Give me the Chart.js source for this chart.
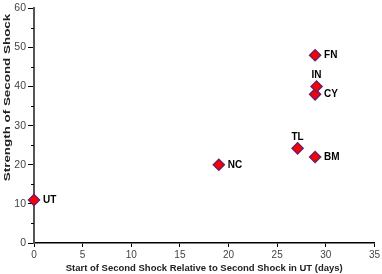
<!DOCTYPE html>
<html>
<head>
<meta charset="utf-8">
<script src="https://cdn.jsdelivr.net/npm/chart.js@4"></script>
<style>
  body { margin: 0; background: #fff; }
  #wrap { width: 382px; height: 274px; }
</style>
</head>
<body>
<div id="wrap"><canvas id="myChart" width="382" height="274"></canvas></div>
<script>
// data
var sites = ['UT', 'NC', 'TL', 'BM', 'CY', 'IN', 'FN'];
var startDays = [0, 19, 27.1, 28.9, 28.9, 29.05, 28.9];
var strength = [11, 20, 24.2, 22, 38, 40, 48];

var xTicks = [0, 5, 10, 15, 20, 25, 30, 35];
var yTicks = [0, 10, 20, 30, 40, 50, 60];
var yMinor = [5, 15, 25, 35, 45, 55];

var yTitle = 'Strength of Second Shock';
var labelsAbove = ['IN', 'TL'];

var points = sites.map(function (s, i) {
  return { x: startDays[i], y: strength[i] };
});

// point names next to the diamonds
var siteLabels = {
  id: 'siteLabels',
  afterDatasetsDraw: function (chart) {
    var c = chart.ctx;
    var meta = chart.getDatasetMeta(0);
    c.save();
    c.font = 'bold 10px "Liberation Sans", Arial, sans-serif';
    c.fillStyle = '#000';
    c.textBaseline = 'middle';
    meta.data.forEach(function (el, i) {
      var name = sites[i];
      if (labelsAbove.indexOf(name) >= 0) {
        c.textAlign = 'center';
        c.fillText(name, el.x, el.y - 11);
      } else {
        c.textAlign = 'left';
        c.fillText(name, el.x + 9, el.y);
      }
    });
    c.restore();
  }
};

// minor y ticks + the stretched y title
var yExtras = {
  id: 'yExtras',
  afterDraw: function (chart) {
    var c = chart.ctx;
    var ys = chart.scales.y;
    var left = chart.chartArea.left;
    c.save();
    c.strokeStyle = '#000';
    c.lineWidth = 1;
    yMinor.forEach(function (v) {
      var py = Math.round(ys.getPixelForValue(v)) + 0.5;
      c.beginPath();
      c.moveTo(left - 3, py);
      c.lineTo(left, py);
      c.stroke();
    });
    c.restore();

    c.save();
    c.translate(9.5, 97.5);
    c.rotate(-Math.PI / 2);
    c.scale(1.41, 1);
    c.font = 'bold 9.5px "Liberation Sans", Arial, sans-serif';
    c.fillStyle = '#222';
    c.textAlign = 'center';
    c.textBaseline = 'alphabetic';
    c.fillText(yTitle, 0, 0);
    c.restore();
  }
};

var ctx = document.getElementById('myChart').getContext('2d');
var chart = new Chart(ctx, {
  type: 'scatter',
  data: {
    datasets: [{
      data: points,
      clip: false,
      pointStyle: 'rectRot',
      pointRadius: 5.5,
      pointHoverRadius: 5.5,
      backgroundColor: '#ff0000',
      borderColor: '#6a1f63',
      borderWidth: 1.5
    }]
  },
  options: {
    responsive: false,
    animation: false,
    layout: { padding: { top: 4, right: 7, left: 0, bottom: 0 } },
    plugins: {
      legend: { display: false },
      tooltip: { enabled: false }
    },
    scales: {
      x: {
        type: 'linear',
        min: 0,
        max: 35,
        afterBuildTicks: function (s) { s.ticks = xTicks.map(function (v) { return { value: v }; }); },
        afterFit: function (s) { s.height = 31; },
        border: { display: true, color: '#000', width: 1.5 },
        grid: { drawOnChartArea: false, drawTicks: true, tickLength: 4, color: '#000' },
        ticks: {
          padding: 2,
          color: '#444',
          font: { family: '"Liberation Sans", Arial, sans-serif', size: 10 }
        },
        title: {
          display: true,
          text: 'Start of Second Shock Relative to Second Shock in UT (days)',
          color: '#222',
          padding: { top: 0, bottom: 0 },
          font: { family: '"Liberation Sans", Arial, sans-serif', size: 9.5, weight: 'bold' }
        }
      },
      y: {
        type: 'linear',
        min: 0,
        max: 60,
        afterBuildTicks: function (s) { s.ticks = yTicks.map(function (v) { return { value: v }; }); },
        afterFit: function (s) { s.width = 34; },
        border: { display: true, color: '#555', width: 2 },
        grid: { drawOnChartArea: false, drawTicks: true, tickLength: 6, color: '#000' },
        ticks: {
          padding: 2,
          color: '#444',
          font: { family: '"Liberation Sans", Arial, sans-serif', size: 10.5 }
        },
        title: { display: false }
      }
    }
  },
  plugins: [siteLabels, yExtras]
});
</script>
</body>
</html>
